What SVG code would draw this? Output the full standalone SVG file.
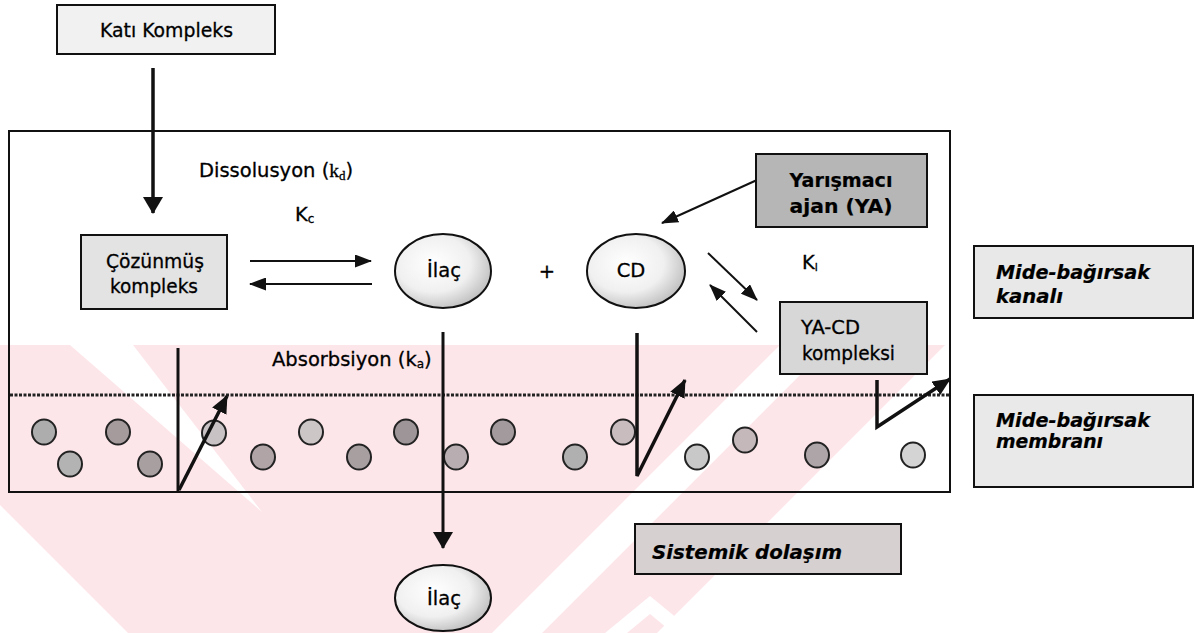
<svg xmlns="http://www.w3.org/2000/svg" width="1198" height="633" viewBox="0 0 1198 633">
<defs>
<style>
.t{font-family:"DejaVu Sans","Liberation Sans",sans-serif;font-size:19.5px;fill:#000;stroke:#000;stroke-width:0.3}
.b{font-weight:bold;stroke-width:0.2}
.bi{font-weight:bold;font-style:italic;stroke-width:0.2}
.sr{font-family:"Liberation Serif",serif}
.box{stroke:#111;stroke-width:2}
.ln{fill:none;stroke:#111}
.pt{stroke:#222;stroke-width:2}
.wm{fill:#fde6ea}
</style>
<radialGradient id="eg" cx="0.4" cy="0.4" r="0.7"><stop offset="0" stop-color="#ffffff"/><stop offset="0.55" stop-color="#f0f0f0"/><stop offset="1" stop-color="#b4b4b4"/></radialGradient>
<marker id="ah" viewBox="0 0 17 13" refX="16" refY="6.5" markerWidth="17" markerHeight="13" orient="auto" markerUnits="userSpaceOnUse"><path d="M0,0 L17,6.5 L0,13 Z" fill="#111"/></marker>
<marker id="ahm" viewBox="0 0 18 16" refX="17" refY="8" markerWidth="18" markerHeight="16" orient="auto" markerUnits="userSpaceOnUse"><path d="M0,0 L18,8 L0,16 Z" fill="#111"/></marker>
<marker id="ahb" viewBox="0 0 17 20" refX="16" refY="10" markerWidth="17" markerHeight="20" orient="auto" markerUnits="userSpaceOnUse"><path d="M0,0 L17,10 L0,20 Z" fill="#111"/></marker>
</defs>
<rect width="1198" height="633" fill="#fff"/>
<g id="watermark">
<polygon class="wm" points="0,345 945,345 657,633 128,633 0,505"/>
<polygon fill="#fff" points="70,345 133,345 262,512"/>
<polygon fill="#fff" points="780,345 830,345 542,633 492,633"/>
<polygon fill="#fff" points="650,596 695,633 673,633 650,614 627,633 605,633"/>
</g>
<g id="membrane-box">
<rect x="9" y="131" width="941" height="361" fill="none" stroke="#111" stroke-width="2"/>
<line x1="10" y1="395" x2="950" y2="395" stroke="#222" stroke-width="3" stroke-dasharray="3 1.5"/>
</g>
<g id="particles">
<ellipse class="pt" cx="44" cy="432" rx="12" ry="12.5" fill="#adadad"/>
<ellipse class="pt" cx="70" cy="464" rx="12" ry="12.5" fill="#b3b3b3"/>
<ellipse class="pt" cx="118" cy="432" rx="12" ry="12.5" fill="#a59a9c"/>
<ellipse class="pt" cx="150" cy="464" rx="12" ry="12.5" fill="#a89fa1"/>
<ellipse class="pt" cx="214" cy="433" rx="12" ry="12.5" fill="#c9c2c4"/>
<ellipse class="pt" cx="263" cy="457" rx="12" ry="12.5" fill="#b0a4a7"/>
<ellipse class="pt" cx="311" cy="432" rx="12" ry="12.5" fill="#ccc6c7"/>
<ellipse class="pt" cx="359" cy="457" rx="12" ry="12.5" fill="#a89fa1"/>
<ellipse class="pt" cx="406" cy="432" rx="12" ry="12.5" fill="#9e9598"/>
<ellipse class="pt" cx="456" cy="457" rx="12" ry="12.5" fill="#b8adb0"/>
<ellipse class="pt" cx="503" cy="432" rx="12" ry="12.5" fill="#a29a9c"/>
<ellipse class="pt" cx="575" cy="457" rx="12" ry="12.5" fill="#b0b0b0"/>
<ellipse class="pt" cx="623" cy="432" rx="12" ry="12.5" fill="#c8bcbf"/>
<ellipse class="pt" cx="697" cy="457" rx="12" ry="12.5" fill="#c8c8c8"/>
<ellipse class="pt" cx="745" cy="440" rx="12" ry="12.5" fill="#c4b8bb"/>
<ellipse class="pt" cx="817" cy="455" rx="12" ry="12.5" fill="#ada5a7"/>
<ellipse class="pt" cx="913" cy="455" rx="12" ry="12.5" fill="#d4d4d4"/>
</g>
<g id="connectors">
<line class="ln" x1="153" y1="68" x2="153" y2="213" stroke-width="3.5" marker-end="url(#ahb)"/>
<line class="ln" x1="250" y1="261" x2="371" y2="261" stroke-width="2" marker-end="url(#ah)"/>
<line class="ln" x1="372" y1="284" x2="250" y2="284" stroke-width="2" marker-end="url(#ah)"/>
<line class="ln" x1="757" y1="180" x2="662" y2="223" stroke-width="2" marker-end="url(#ah)"/>
<line class="ln" x1="708" y1="253" x2="757" y2="300" stroke-width="2" marker-end="url(#ah)"/>
<line class="ln" x1="757" y1="332" x2="710" y2="285" stroke-width="2" marker-end="url(#ah)"/>
<line class="ln" x1="178" y1="348" x2="178" y2="492" stroke-width="3"/>
<line class="ln" x1="179" y1="490" x2="227" y2="396" stroke-width="3.5" marker-end="url(#ahm)"/>
<line class="ln" x1="443" y1="332" x2="443" y2="548" stroke-width="3" marker-end="url(#ahb)"/>
<polyline class="ln" points="637,333 637,476 685,380" stroke-width="3.5" marker-end="url(#ahm)"/>
<polyline class="ln" points="877,380 877,427 950,379" stroke-width="3.5" marker-end="url(#ahm)"/>
</g>
<g id="kati-kompleks">
<rect class="box" x="57" y="5" width="218" height="49" fill="#f1f1f1"/>
<text class="t" x="100" y="37" textLength="133" lengthAdjust="spacingAndGlyphs">Katı Kompleks</text>
</g>
<g id="labels">
<text class="t" x="199" y="177" font-size="18.7">Dissolusyon (<tspan class="sr">k</tspan><tspan class="sr" font-size="13" dy="3">d</tspan><tspan dy="-3">)</tspan></text>
<text class="t" x="295" y="221" font-size="19">K<tspan font-size="12" dy="2">c</tspan></text>
<text class="t" x="802" y="269" font-size="19">K<tspan font-size="11" dy="2">l</tspan></text>
<text class="t" x="272" y="366" font-size="18.8">Absorbsiyon (k<tspan font-size="12" dy="2">a</tspan><tspan dy="-2">)</tspan></text>
<text class="t" x="547" y="278" font-size="26" text-anchor="middle">+</text>
</g>
<g id="cozunmus-kompleks">
<rect class="box" x="81" y="235" width="146" height="74" fill="#e3e3e3"/>
<text class="t" x="155" y="268" text-anchor="middle" textLength="98" lengthAdjust="spacingAndGlyphs">Çözünmüş</text>
<text class="t" x="154" y="293" text-anchor="middle" textLength="88" lengthAdjust="spacingAndGlyphs">kompleks</text>
</g>
<g id="ilac">
<ellipse cx="443" cy="271" rx="48" ry="37" fill="url(#eg)" stroke="#111" stroke-width="2"/>
<text class="t" x="444" y="277" text-anchor="middle">İlaç</text>
</g>
<g id="cd">
<ellipse cx="636" cy="271" rx="49" ry="37" fill="url(#eg)" stroke="#111" stroke-width="2"/>
<text class="t" x="631" y="277" text-anchor="middle">CD</text>
</g>
<g id="yarismaci-ajan">
<rect class="box" x="756" y="154" width="171" height="73" fill="#b6b6b6"/>
<text class="t b" x="841" y="187" text-anchor="middle" textLength="103" lengthAdjust="spacingAndGlyphs">Yarışmacı</text>
<text class="t b" x="841" y="213" text-anchor="middle" textLength="103" lengthAdjust="spacingAndGlyphs">ajan (YA)</text>
</g>
<g id="ya-cd-kompleksi">
<rect class="box" x="780" y="302" width="147" height="72" fill="#d7d7d7"/>
<text class="t" x="801" y="334" textLength="59" lengthAdjust="spacingAndGlyphs">YA-CD</text>
<text class="t" x="802" y="360" textLength="93" lengthAdjust="spacingAndGlyphs">kompleksi</text>
</g>
<g id="mide-bagirsak-kanali">
<rect class="box" x="974" y="246" width="219" height="72" fill="#e8e8e8"/>
<text class="t bi" x="996" y="279" font-size="20" textLength="154" lengthAdjust="spacingAndGlyphs">Mide-bağırsak</text>
<text class="t bi" x="996" y="303" font-size="20" textLength="67" lengthAdjust="spacingAndGlyphs">kanalı</text>
</g>
<g id="mide-bagirsak-membrani">
<rect class="box" x="974" y="395" width="219" height="92" fill="#e9e9e9"/>
<text class="t bi" x="996" y="427" font-size="20" textLength="154" lengthAdjust="spacingAndGlyphs">Mide-bağırsak</text>
<text class="t bi" x="996" y="448" font-size="20" textLength="107" lengthAdjust="spacingAndGlyphs">membranı</text>
</g>
<g id="sistemik-dolasim">
<rect class="box" x="635" y="524" width="266" height="50" fill="#d6d0d1"/>
<text class="t bi" x="652" y="559" font-size="21" textLength="190" lengthAdjust="spacingAndGlyphs">Sistemik dolaşım</text>
</g>
<g id="ilac-sistemik">
<ellipse cx="443" cy="598" rx="48" ry="33" fill="url(#eg)" stroke="#111" stroke-width="2"/>
<text class="t" x="444" y="605" text-anchor="middle">İlaç</text>
</g>
</svg>
